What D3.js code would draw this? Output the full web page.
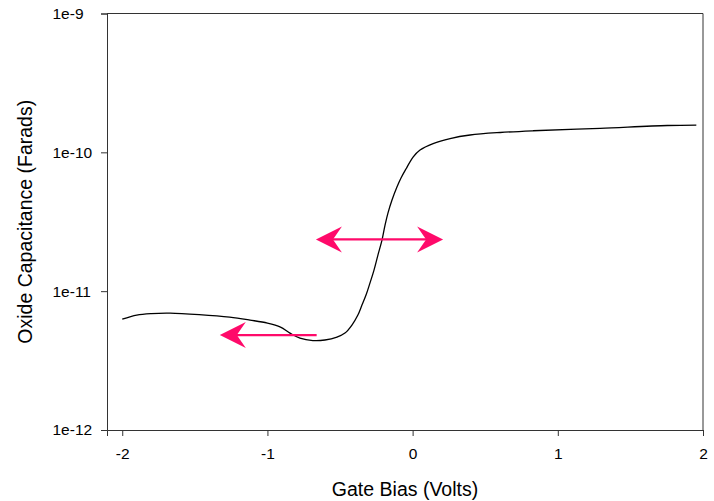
<!DOCTYPE html>
<html>
<head>
<meta charset="utf-8">
<script src="https://cdn.jsdelivr.net/npm/d3@7"></script>
<style>
  html, body { margin: 0; padding: 0; background: #fff; }
  svg { display: block; }
  text { font-family: "Liberation Sans", Arial, sans-serif; fill: #000; }
</style>
</head>
<body>
<svg id="chart" width="714" height="501"></svg>
<script>
// Gate bias (V)
const gateBias = [-2.0, -1.9, -1.8, -1.67, -1.47, -1.26, -1.12, -1.0, -0.91, -0.845, -0.776, -0.687, -0.604, -0.521, -0.466, -0.418, -0.377, -0.349, -0.321, -0.294, -0.266, -0.239, -0.211, -0.19, -0.17, -0.142, -0.108, -0.08, -0.046, 0.003, 0.051, 0.141, 0.258, 0.396, 0.603, 0.83, 1.292, 1.754, 1.954];
// Oxide capacitance (F)
const capacitance = [6.29e-12, 6.73e-12, 6.90e-12, 6.95e-12, 6.78e-12, 6.50e-12, 6.19e-12, 5.89e-12, 5.51e-12, 4.99e-12, 4.59e-12, 4.41e-12, 4.45e-12, 4.67e-12, 4.99e-12, 5.70e-12, 6.73e-12, 7.94e-12, 9.37e-12, 1.143e-11, 1.419e-11, 1.82e-11, 2.33e-11, 2.99e-11, 3.65e-11, 4.53e-11, 5.62e-11, 6.53e-11, 7.58e-11, 9.25e-11, 1.04e-10, 1.157e-10, 1.257e-10, 1.333e-10, 1.39e-10, 1.43e-10, 1.49e-10, 1.56e-10, 1.57e-10];

const xTicks = [-2, -1, 0, 1, 2];
const xTickLabels = ["-2", "-1", "0", "1", "2"];
const yTicks = [1e-12, 1e-11, 1e-10, 1e-9];
const yTickLabels = ["1e-12", "1e-11", "1e-10", "1e-9"];

// Annotation arrows (data coordinates)
const arrowDouble = { x1: -0.666, x2: 0.21, y: 2.36e-11 };
const arrowLeft = { x1: -0.661, x2: -1.328, y: 4.83e-12 };

const svg = d3.select("#chart");
const mLeft = 107, mRight = 703, mTop = 13.5, mBottom = 430;

const x = d3.scaleLinear().domain([-2.105, 2]).range([mLeft, mRight]);
const y = d3.scaleLog().domain([1e-12, 1e-9]).range([mBottom, mTop]);

const axisColor = "#333";

// frame: top and right
svg.append("line").attr("x1", mLeft).attr("x2", mRight).attr("y1", mTop).attr("y2", mTop)
  .attr("stroke", axisColor).attr("stroke-width", 1);
svg.append("line").attr("x1", mRight).attr("x2", mRight).attr("y1", mTop).attr("y2", mBottom)
  .attr("stroke", axisColor).attr("stroke-width", 1);

const yAxis = d3.axisLeft(y).tickValues(yTicks)
  .tickFormat((d, i) => yTickLabels[i]).tickSize(6).tickPadding(8);
const gy = svg.append("g").attr("transform", `translate(${mLeft},0)`).call(yAxis);
gy.select(".domain").attr("stroke", axisColor);
gy.selectAll(".tick line").attr("stroke", axisColor);
gy.selectAll(".tick text").attr("font-size", 15.5).attr("font-family", "Liberation Sans, Arial, sans-serif")
  .attr("fill", "#000").attr("text-anchor", "start").attr("x", 52.5 - mLeft);

const xAxis = d3.axisBottom(x).tickValues(xTicks).tickFormat((d, i) => xTickLabels[i]).tickSize(6).tickPadding(12);
const gx = svg.append("g").attr("transform", `translate(0,${mBottom})`).call(xAxis);
gx.select(".domain").attr("stroke", axisColor);
gx.selectAll(".tick line").attr("stroke", axisColor);
gx.selectAll(".tick text").attr("font-size", 15.5).attr("font-family", "Liberation Sans, Arial, sans-serif").attr("fill", "#000");

// titles
svg.append("text").attr("x", (mLeft + mRight) / 2).attr("y", 496)
  .attr("text-anchor", "middle").attr("font-size", 19.5).text("Gate Bias (Volts)");
svg.append("text").attr("transform", `translate(32,${(mTop + mBottom) / 2}) rotate(-90)`)
  .attr("text-anchor", "middle").attr("font-size", 19.5).text("Oxide Capacitance (Farads)");

// curve
const pts = gateBias.map((g, i) => [g, capacitance[i]]);
const line = d3.line().x(d => x(d[0])).y(d => y(d[1])).curve(d3.curveCatmullRom.alpha(0.5));
svg.append("path").datum(pts).attr("d", line)
  .attr("fill", "none").attr("stroke", "#000").attr("stroke-width", 1.3);

// arrows
const pink = "#ff0a6a";
function head(tipX, tipY, dir) {
  const L = 26, W = 13, N = 17;
  const p = [[tipX, tipY], [tipX - dir * L, tipY - W], [tipX - dir * N, tipY], [tipX - dir * L, tipY + W]];
  svg.append("polygon").attr("points", p.map(q => q.join(",")).join(" ")).attr("fill", pink);
}
function shaft(xa, xb, yy) {
  svg.append("line").attr("x1", xa).attr("x2", xb).attr("y1", yy).attr("y2", yy)
    .attr("stroke", pink).attr("stroke-width", 2.2);
}
{
  const ya = y(arrowDouble.y), xa = x(arrowDouble.x1), xb = x(arrowDouble.x2);
  shaft(xa + 14, xb - 14, ya);
  head(xa, ya, -1);
  head(xb, ya, 1);
}
{
  const ya = y(arrowLeft.y), xa = x(arrowLeft.x1), xb = x(arrowLeft.x2);
  shaft(xb + 14, xa, ya);
  head(xb, ya, -1);
}
</script>
</body>
</html>
